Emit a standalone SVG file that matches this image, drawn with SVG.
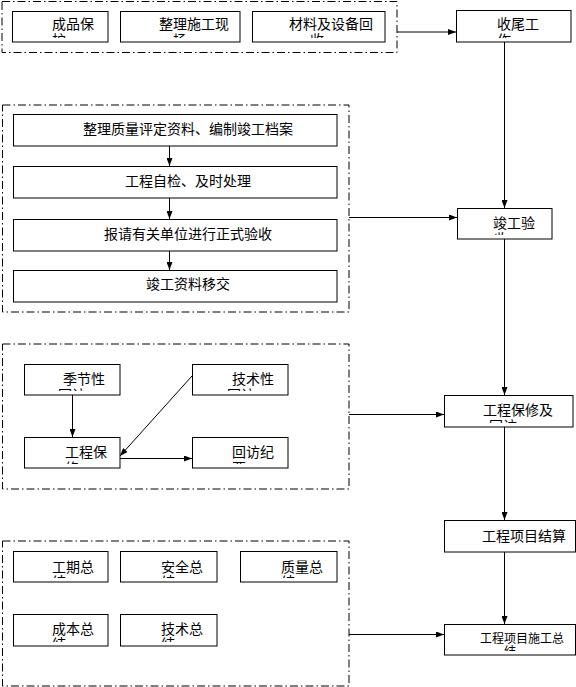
<svg xmlns="http://www.w3.org/2000/svg" width="576" height="687" viewBox="0 0 576 687">
<style>
.grp{fill:none;stroke:#000;stroke-width:1;stroke-dasharray:8 3 1.5 3}
.box{fill:#fff;stroke:#000;stroke-width:1}
.t{font-family:"Noto Sans CJK SC","Noto Sans",sans-serif;font-size:14px;fill:#000}
.s{font-size:12px}
.ln{fill:none;stroke:#000;stroke-width:1}
</style>
<defs>
<marker id="ah" viewBox="0 0 8 6" refX="8" refY="3" markerWidth="8" markerHeight="6" markerUnits="userSpaceOnUse" orient="auto"><path d="M0,0 L8,3 L0,6 Z" fill="#000"/></marker>
<clipPath id="c1"><rect x="12" y="11" width="96" height="27"/></clipPath>
<clipPath id="c2"><rect x="120" y="11" width="120" height="27"/></clipPath>
<clipPath id="c3"><rect x="252" y="11" width="133" height="27"/></clipPath>
<clipPath id="c4"><rect x="456" y="10" width="115" height="28"/></clipPath>
<clipPath id="c5"><rect x="457" y="208" width="95" height="27"/></clipPath>
<clipPath id="c6"><rect x="24" y="364" width="96" height="27"/></clipPath>
<clipPath id="c7"><rect x="192" y="364" width="96" height="27"/></clipPath>
<clipPath id="c8"><rect x="24" y="437" width="96" height="27"/></clipPath>
<clipPath id="c9"><rect x="192" y="437" width="96" height="27"/></clipPath>
<clipPath id="c10"><rect x="444" y="395" width="129" height="28"/></clipPath>
<clipPath id="c11"><rect x="13" y="551" width="95" height="27"/></clipPath>
<clipPath id="c12"><rect x="120" y="551" width="97" height="27"/></clipPath>
<clipPath id="c13"><rect x="240" y="551" width="97" height="27"/></clipPath>
<clipPath id="c14"><rect x="13" y="614" width="95" height="28"/></clipPath>
<clipPath id="c15"><rect x="120" y="614" width="97" height="28"/></clipPath>
<clipPath id="c16"><rect x="444" y="624" width="132" height="27"/></clipPath>
</defs>
<rect width="576" height="687" fill="#fff"/>

<g id="groups">
<rect class="grp" x="2" y="1.5" width="395" height="51"/>
<rect class="grp" x="2.5" y="105" width="346.5" height="207"/>
<rect class="grp" x="2.5" y="344" width="346.5" height="145"/>
<rect class="grp" x="2.5" y="541" width="346.5" height="145"/>
</g>

<g id="connectors">
<line class="ln" x1="397" y1="32" x2="456" y2="32" marker-end="url(#ah)"/>
<line class="ln" x1="504.5" y1="42" x2="504.5" y2="208" marker-end="url(#ah)"/>
<line class="ln" x1="349" y1="217.5" x2="457" y2="217.5" marker-end="url(#ah)"/>
<line class="ln" x1="504.5" y1="239" x2="504.5" y2="395" marker-end="url(#ah)"/>
<line class="ln" x1="349" y1="414.5" x2="444" y2="414.5" marker-end="url(#ah)"/>
<line class="ln" x1="504.5" y1="427" x2="504.5" y2="520" marker-end="url(#ah)"/>
<line class="ln" x1="504.5" y1="552" x2="504.5" y2="624" marker-end="url(#ah)"/>
<line class="ln" x1="349" y1="634.5" x2="444" y2="634.5" marker-end="url(#ah)"/>
<line class="ln" x1="169.5" y1="146" x2="169.5" y2="166" marker-end="url(#ah)"/>
<line class="ln" x1="169.5" y1="198" x2="169.5" y2="219" marker-end="url(#ah)"/>
<line class="ln" x1="169.5" y1="251" x2="169.5" y2="270" marker-end="url(#ah)"/>
<line class="ln" x1="72.5" y1="395" x2="72.5" y2="437" marker-end="url(#ah)"/>
<line class="ln" x1="192" y1="376" x2="120" y2="456" stroke-width="0.7" marker-end="url(#ah)"/>
<line class="ln" x1="120" y1="458.5" x2="192" y2="458.5" marker-end="url(#ah)"/>
</g>

<g id="n1"><rect class="box" x="12.5" y="11.5" width="95.5" height="30.5"/><text class="t" clip-path="url(#c1)"><tspan x="52" y="29">成品保</tspan><tspan x="52" y="45">护</tspan></text></g>
<g id="n2"><rect class="box" x="120.5" y="11.5" width="119.5" height="30.5"/><text class="t" clip-path="url(#c2)"><tspan x="159" y="29">整理施工现</tspan><tspan x="173" y="45">场</tspan></text></g>
<g id="n3"><rect class="box" x="252.5" y="11.5" width="132.5" height="30.5"/><text class="t" clip-path="url(#c3)"><tspan x="289" y="29">材料及设备回</tspan><tspan x="310" y="45">收</tspan></text></g>
<g id="n4"><rect class="box" x="456.5" y="10.5" width="114.5" height="31.5"/><text class="t" clip-path="url(#c4)"><tspan x="497" y="29">收尾工</tspan><tspan x="497" y="45">作</tspan></text></g>

<g id="n5"><rect class="box" x="13.5" y="114.5" width="323.5" height="31.5"/><text class="t" x="188" y="134" text-anchor="middle">整理质量评定资料、编制竣工档案</text></g>
<g id="n6"><rect class="box" x="13.5" y="166.5" width="323.5" height="31.5"/><text class="t" x="188" y="185.5" text-anchor="middle">工程自检、及时处理</text></g>
<g id="n7"><rect class="box" x="13.5" y="219.5" width="323.5" height="31.5"/><text class="t" x="188" y="238.5" text-anchor="middle">报请有关单位进行正式验收</text></g>
<g id="n8"><rect class="box" x="13.5" y="270.5" width="323.5" height="31.5"/><text class="t" x="188" y="289" text-anchor="middle">竣工资料移交</text></g>

<g id="n9"><rect class="box" x="457.5" y="208.5" width="94.5" height="30.5"/><text class="t" clip-path="url(#c5)"><tspan x="493" y="228">竣工验</tspan><tspan x="494" y="244">收</tspan></text></g>

<g id="n10"><rect class="box" x="24.5" y="364.5" width="95.5" height="30.5"/><text class="t" clip-path="url(#c6)"><tspan x="63" y="384">季节性</tspan><tspan x="58" y="400">回访</tspan></text></g>
<g id="n11"><rect class="box" x="192.5" y="364.5" width="95.5" height="30.5"/><text class="t" clip-path="url(#c7)"><tspan x="232" y="384">技术性</tspan><tspan x="227" y="400">回访</tspan></text></g>
<g id="n12"><rect class="box" x="24.5" y="437.5" width="95.5" height="30.5"/><text class="t" clip-path="url(#c8)"><tspan x="65" y="457">工程保</tspan><tspan x="65" y="473">修</tspan></text></g>
<g id="n13"><rect class="box" x="192.5" y="437.5" width="95.5" height="30.5"/><text class="t" clip-path="url(#c9)"><tspan x="232" y="457">回访纪</tspan><tspan x="232" y="473">要</tspan></text></g>

<g id="n14"><rect class="box" x="444.5" y="395.5" width="128.5" height="31.5"/><text class="t" clip-path="url(#c10)"><tspan x="483" y="415">工程保修及</tspan><tspan x="489" y="431">回访</tspan></text></g>
<g id="n15"><rect class="box" x="444.5" y="520.5" width="131" height="31.5"/><text class="t" x="482" y="540.5">工程项目结算</text></g>

<g id="n16"><rect class="box" x="13.5" y="551.5" width="94.5" height="30.5"/><text class="t" clip-path="url(#c11)"><tspan x="52" y="572">工期总</tspan><tspan x="52" y="587">结</tspan></text></g>
<g id="n17"><rect class="box" x="120.5" y="551.5" width="96.5" height="30.5"/><text class="t" clip-path="url(#c12)"><tspan x="161" y="572">安全总</tspan><tspan x="161" y="587">结</tspan></text></g>
<g id="n18"><rect class="box" x="240.5" y="551.5" width="96.5" height="30.5"/><text class="t" clip-path="url(#c13)"><tspan x="281" y="572">质量总</tspan><tspan x="281" y="587">结</tspan></text></g>
<g id="n19"><rect class="box" x="13.5" y="614.5" width="94.5" height="31.5"/><text class="t" clip-path="url(#c14)"><tspan x="52" y="634">成本总</tspan><tspan x="52" y="649">结</tspan></text></g>
<g id="n20"><rect class="box" x="120.5" y="614.5" width="96.5" height="31.5"/><text class="t" clip-path="url(#c15)"><tspan x="161" y="634">技术总</tspan><tspan x="161" y="649">结</tspan></text></g>

<g id="n21"><rect class="box" x="444.5" y="624.5" width="131" height="30.5"/><text class="t s" clip-path="url(#c16)"><tspan x="480" y="643">工程项目施工总</tspan><tspan x="504" y="656">结</tspan></text></g>
</svg>
